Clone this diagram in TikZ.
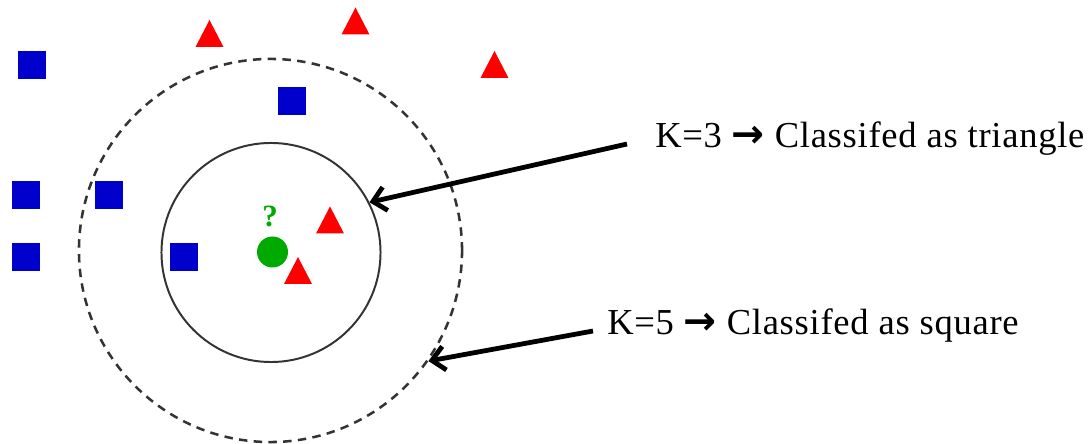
\documentclass[tikz,border=0pt]{standalone}
\usepackage{fontspec}
\setmainfont{Liberation Serif}[LetterSpace=2]
\newfontfamily\arrowfont{DejaVu Sans}
\usetikzlibrary{arrows.meta}
\definecolor{sqblue}{HTML}{0000CC}
\definecolor{trired}{HTML}{FF0000}
\definecolor{qgreen}{HTML}{00AA00}
\definecolor{ringgray}{HTML}{333333}

\tikzset{
    sq/.pic={\fill[sqblue] (-14,-14) rectangle (14,14);},
    tri/.pic={\fill[trired] (-14,13.5) -- (14,13.5) -- (0,-13.5) -- cycle;},
    ring/.style={draw=ringgray, circle, inner sep=0pt},
    pointer/.style={line width=3.4pt, -{Straight Barb[length=9pt, width=17pt]}},
    label/.style={anchor=base west, inner sep=0pt, font=\fontsize{26}{30}\selectfont},
}
\newcommand{\then}{{\arrowfont\bfseries\fontsize{28}{30}\selectfont →}}

\begin{document}
\begin{tikzpicture}[x=0.025cm, y=-0.025cm]
    \useasboundingbox (0,0) rectangle (1092,444);
    % neighbourhoods
    \node[ring, line width=1.8pt, dash pattern=on 6pt off 4.5pt, minimum size=9.575cm] (outer) at (270.5,250.5) {};
    \node[ring, line width=1.4pt, minimum size=5.475cm] (inner) at (271,252.5) {};
    % class: square
    \pic at (32,65) {sq};
    \pic at (292,101.5) {sq};
    \pic at (26,195.5) {sq};
    \pic at (108.5,195.5) {sq};
    \pic at (26,257.5) {sq};
    \pic at (184,257.5) {sq};
    % class: triangle
    \pic at (209.5,33.5) {tri};
    \pic at (355.5,21) {tri};
    \pic at (494.5,64.5) {tri};
    \pic at (330,220) {tri};
    \pic at (298,270.5) {tri};
    % query point
    \fill[qgreen] (272.5,252) circle (15.5);
    \node[anchor=base, inner sep=0pt, text=qgreen, font=\fontsize{22}{26}\selectfont\bfseries] (query) at (270,227) {?};
    % labels
    \node[label] (k3) at (655,148) {K=3 \then{} Classifed as triangle};
    \node[label] (k5) at (607,335) {K=5 \then{} Classifed as square};
    \coordinate (s3) at (627,144);
    \coordinate (s5) at (593,331);
    \draw[pointer] (s3) -- (inner.27);
    \draw[pointer] (s5) -- (outer.-35);
\end{tikzpicture}
\end{document}
